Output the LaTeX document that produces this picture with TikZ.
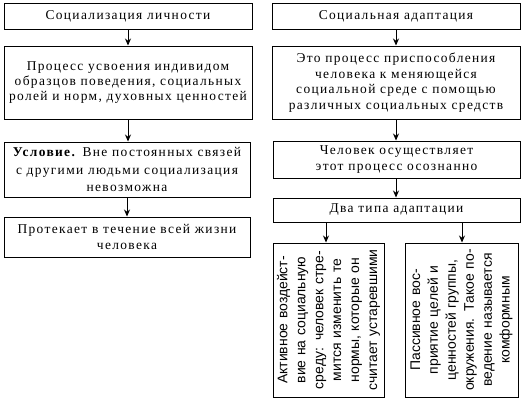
\documentclass[tikz,border=0pt]{standalone}
\usepackage{fontspec}
\setmainfont{Liberation Serif}[LetterSpace=10]
\newfontfamily\rotsans{Liberation Sans}
\usetikzlibrary{arrows.meta}
\begin{document}
\begin{tikzpicture}[x=1bp,y=-1bp,
  box/.style={draw,line width=1pt,inner sep=0pt,align=center,font=\fontsize{13.5}{15.5}\selectfont},
  arr/.style={line width=0.9pt,-{Stealth[length=7bp,width=6bp]}},
  rbox/.style={draw,line width=1pt,inner sep=0pt,minimum width=154bp,align=center,text width=150bp,font=\rotsans\fontsize{14}{18}\selectfont,rotate=90}
]
\useasboundingbox (0,0) rectangle (526,401);
% left column
\node[box,minimum width=248bp,minimum height=26bp] (L1) at (128,16) {Социализация личности};
\node[box,minimum width=248bp,minimum height=73bp] (L2) at (128,82.5) {Процесс усвоения индивидом\\образцов поведения, социальных\\ролей и норм, духовных ценностей};
\node[box,minimum width=246bp,minimum height=55bp,font=\fontsize{13.5}{18}\selectfont] (L3) at (127,169.5) {\textbf{Условие.} Вне постоянных связей\\с другими людьми социализация\\невозможна};
\node[box,minimum width=246bp,minimum height=40bp] (L4) at (127,237) {Протекает в течение всей жизни\\человека};
% right column
\node[box,minimum width=248bp,minimum height=26bp] (R1) at (396,16) {Социальная адаптация};
\node[box,minimum width=248bp,minimum height=73bp] (R2) at (396,82.5) {Это процесс приспособления\\человека к меняющейся\\социальной среде с помощью\\различных социальных средств};
\node[box,minimum width=247bp,minimum height=37bp] (R3) at (396.5,159.5) {Человек осуществляет\\этот процесс осознанно};
\node[box,minimum width=247bp,minimum height=24bp] (R4) at (396.5,210) {Два типа адаптации};
\node[rbox,minimum height=111bp] (R5) at (328.5,320) {Активное воздейст-\\вие на социальную\\среду: человек стре-\\мится изменить те\\нормы, которые он\\считает устаревшими};
\node[rbox,minimum height=113bp] (R6) at (461.5,320) {Пассивное вос-\\приятие целей и\\ценностей группы,\\окружения. Такое по-\\ведение называется\\комформным};
% arrows
\draw[arr] (L1.south) -- (L2.north -| L1.south);
\draw[arr] (L2.south) -- (L3.north -| L2.south);
\draw[arr] (L3.south) -- (L4.north -| L3.south);
\draw[arr] (R1.south) -- (R2.north -| R1.south);
\draw[arr] (R2.south) -- (R3.north -| R2.south);
\draw[arr] (R3.south -| R2.south) -- (R4.north -| R2.south);
\coordinate (a1) at (326,222);
\coordinate (a2) at (462,222);
\draw[arr] (a1) -- (R5.east -| a1);
\draw[arr] (a2) -- (R6.east -| a2);
\end{tikzpicture}
\end{document}
